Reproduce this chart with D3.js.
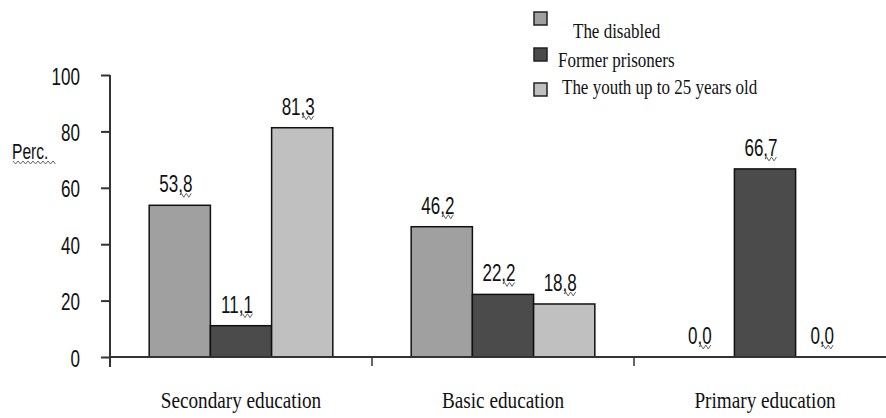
<!DOCTYPE html>
<html>
<head>
<meta charset="utf-8">
<script src="https://cdn.jsdelivr.net/npm/d3@7"></script>
<style>
  html, body { margin: 0; padding: 0; background: #fff; }
  svg { display: block; }
</style>
</head>
<body>
<div id="chart"></div>
<script>
// Education level by group, percent
const categories = ["Secondary education", "Basic education", "Primary education"];
const series = ["The disabled", "Former prisoners", "The youth up to 25 years old"];
const disabled = [53.8, 46.2, 0.0];
const formerPrisoners = [11.1, 22.2, 66.7];
const youth = [81.3, 18.8, 0.0];
const yTicks = [0, 20, 40, 60, 80, 100];
const yLabel = "Perc.";

const seriesValues = [disabled, formerPrisoners, youth];
const colors = ["#a0a0a0", "#4b4b4b", "#c0c0c0"];

const W = 886, H = 418;
const svg = d3.select("#chart").append("svg").attr("width", W).attr("height", H);

const left = 110, zeroY = 357, topY = 75;
const x0 = d3.scaleBand().domain(categories).range([left, 896]).padding(0);
const x1 = d3.scaleBand().domain(series).range([0, x0.bandwidth()])
  .paddingInner(0).paddingOuter(0.64);
const y = d3.scaleLinear().domain([0, 100]).range([zeroY, topY]);

const sans = "'Liberation Sans', Arial, sans-serif";
const serif = "'Liberation Serif', 'Times New Roman', serif";

// condensed text helper
function label(g, x, yy, str, opts) {
  return g.append("text")
    .attr("transform", `translate(${x},${yy}) scale(${opts.sx},1)`)
    .attr("text-anchor", opts.anchor || "middle")
    .attr("font-family", opts.font)
    .attr("font-size", opts.size)
    .attr("fill", "#111")
    .text(str);
}

// wavy proofing underline
function squiggle(g, x, yy, w, amp) {
  const pts = [];
  const step = 2.5;
  for (let i = 0; i * step <= w; i++) pts.push([x + i * step, yy + (i % 2 ? amp : 0)]);
  g.append("path")
    .attr("d", d3.line()(pts))
    .attr("fill", "none")
    .attr("stroke", "#666")
    .attr("stroke-width", 1);
}

// bars
const rows = categories.map((c, ci) => series.map((s, si) => ({ c, s, si, v: seriesValues[si][ci] })));
const groups = svg.append("g").selectAll("g").data(rows).join("g")
  .attr("transform", (d, i) => `translate(${x0(categories[i])},0)`);

groups.selectAll("rect").data(d => d.filter(e => e.v > 0)).join("rect")
  .attr("x", d => x1(d.s))
  .attr("y", d => y(d.v))
  .attr("width", x1.bandwidth())
  .attr("height", d => y(0) - y(d.v))
  .attr("fill", d => colors[d.si])
  .attr("stroke", "#111")
  .attr("stroke-width", 1.5);

// value labels
const labG = svg.append("g");
rows.flat().forEach(d => {
  const cx = x0(d.c) + x1(d.s) + x1.bandwidth() / 2 - 4;
  const by = y(d.v) - 13;
  const txt = d.v.toFixed(1).replace(".", ",");
  label(labG, cx, by, txt, { sx: 0.71, font: sans, size: 24 });
  const tw = txt.length === 4 ? 33 : 24;
  squiggle(labG, cx + tw / 2 - 11, by + 1, 10, 4);
});

// y axis
const yAxis = svg.append("g")
  .attr("transform", `translate(${left},0)`)
  .call(d3.axisLeft(y).tickValues(yTicks).tickSize(9).tickSizeOuter(0));
yAxis.select(".domain").attr("stroke", "#333").attr("stroke-width", 2)
  .attr("d", `M0,${topY}V${zeroY + 10}`);
yAxis.selectAll(".tick line").attr("stroke", "#333").attr("stroke-width", 2);
yAxis.selectAll(".tick text")
  .attr("x", 0).attr("dy", null)
  .attr("transform", "translate(-30,9) scale(0.71,1)")
  .attr("font-family", sans).attr("font-size", 24).attr("fill", "#111")
  .attr("text-anchor", "end");

// y axis title
label(svg, 12, 159, yLabel, { sx: 0.71, font: sans, size: 22, anchor: "start" });
squiggle(svg, 13, 161, 44, 3);

// x axis
const xAxis = svg.append("g");
xAxis.append("line")
  .attr("x1", left).attr("x2", W).attr("y1", zeroY).attr("y2", zeroY)
  .attr("stroke", "#333").attr("stroke-width", 2);
xAxis.selectAll("line.tick").data(categories.slice(1)).join("line")
  .attr("class", "tick")
  .attr("x1", d => x0(d)).attr("x2", d => x0(d))
  .attr("y1", zeroY).attr("y2", zeroY + 9)
  .attr("stroke", "#333").attr("stroke-width", 1.5);
categories.forEach(c => {
  label(xAxis, x0(c) + x0.bandwidth() / 2, 408, c, { sx: 0.8, font: serif, size: 24 });
});

// legend
const legend = svg.append("g");
const legendRows = [
  { sy: 12, tx: 573, ty: 38 },
  { sy: 48, tx: 558, ty: 67 },
  { sy: 83, tx: 562, ty: 94 }
];
series.forEach((s, i) => {
  const r = legendRows[i];
  legend.append("rect")
    .attr("x", 534).attr("y", r.sy).attr("width", 13).attr("height", 13)
    .attr("fill", colors[i]).attr("stroke", "#222").attr("stroke-width", 1.5);
  label(legend, r.tx, r.ty, s, { sx: 0.85, font: serif, size: 20, anchor: "start" });
});
</script>
</body>
</html>
